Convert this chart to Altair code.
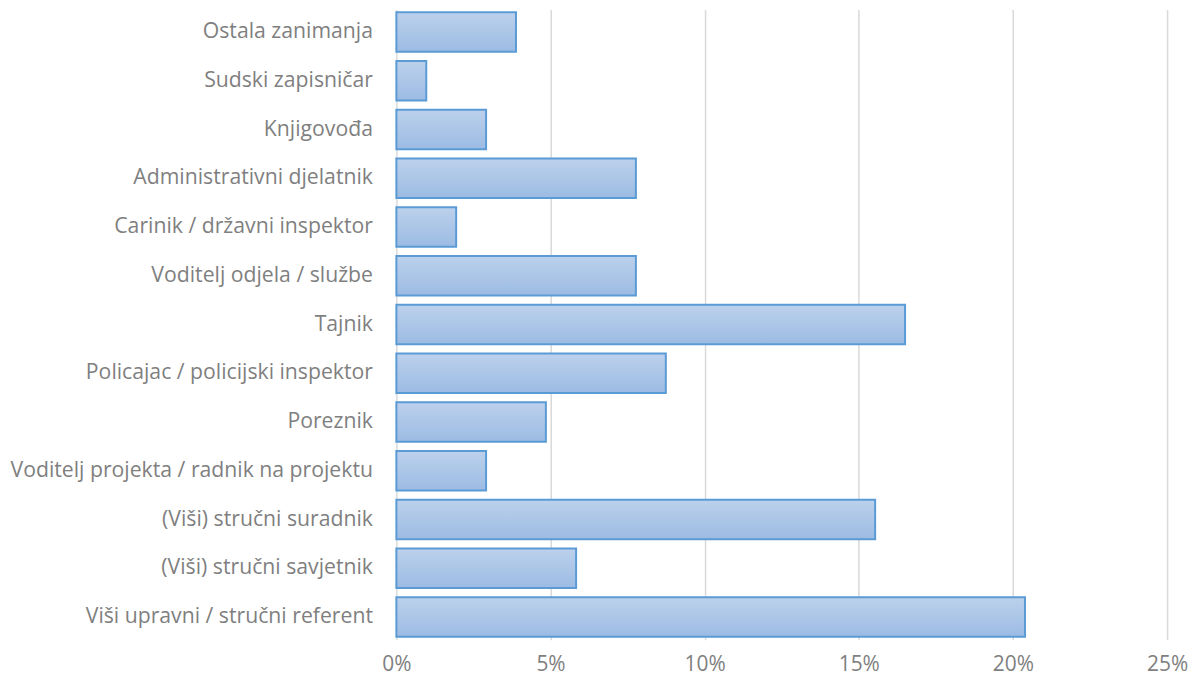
import altair as alt
import pandas as pd

categories = [
    "Ostala zanimanja",
    "Sudski zapisničar",
    "Knjigovođa",
    "Administrativni djelatnik",
    "Carinik / državni inspektor",
    "Voditelj odjela / službe",
    "Tajnik",
    "Policajac / policijski inspektor",
    "Poreznik",
    "Voditelj projekta / radnik na projektu",
    "(Viši) stručni suradnik",
    "(Viši) stručni savjetnik",
    "Viši upravni / stručni referent",
]
shares = [3.88, 0.97, 2.91, 7.77, 1.94, 7.77, 16.50, 8.74, 4.85, 2.91, 15.53, 5.83, 20.39]
x_ticks = [0, 5, 10, 15, 20, 25]

df = pd.DataFrame({"cat": categories, "share": [v / 100 for v in shares]})

grad = alt.Gradient(
    gradient="linear",
    stops=[alt.GradientStop(color="#bcd1ec", offset=0),
           alt.GradientStop(color="#9cbbe3", offset=1)],
    x1=0, x2=0, y1=0, y2=1,
)

chart = alt.Chart(df).mark_bar(
    color=grad, stroke="#5b9bd5", strokeWidth=2
).encode(
    x=alt.X("share:Q",
            scale=alt.Scale(domain=[0, 0.25], nice=False, zero=True),
            axis=alt.Axis(format=".0%", values=[t / 100 for t in x_ticks],
                          title=None, domain=False, ticks=False,
                          grid=True, gridColor="#d9d9d9", gridWidth=1.5,
                          labelFont="Open Sans", labelFontSize=21,
                          labelFlush=False,
                          labelColor="#7f7f7f", labelPadding=14)),
    y=alt.Y("cat:N", sort=categories,
            scale=alt.Scale(paddingInner=0.19, paddingOuter=0.06),
            axis=alt.Axis(title=None, domain=False, ticks=False,
                          labelFont="Open Sans", labelFontSize=21.3,
                          labelColor="#7f7f7f", labelPadding=24,
                          labelLimit=500)),
).properties(
    width=774, height=633,
    padding={"left": 2, "top": 0, "right": 5, "bottom": 5},
).configure_view(stroke=None)

chart.save("out.html", embed_options={"renderer": "svg", "actions": False})
